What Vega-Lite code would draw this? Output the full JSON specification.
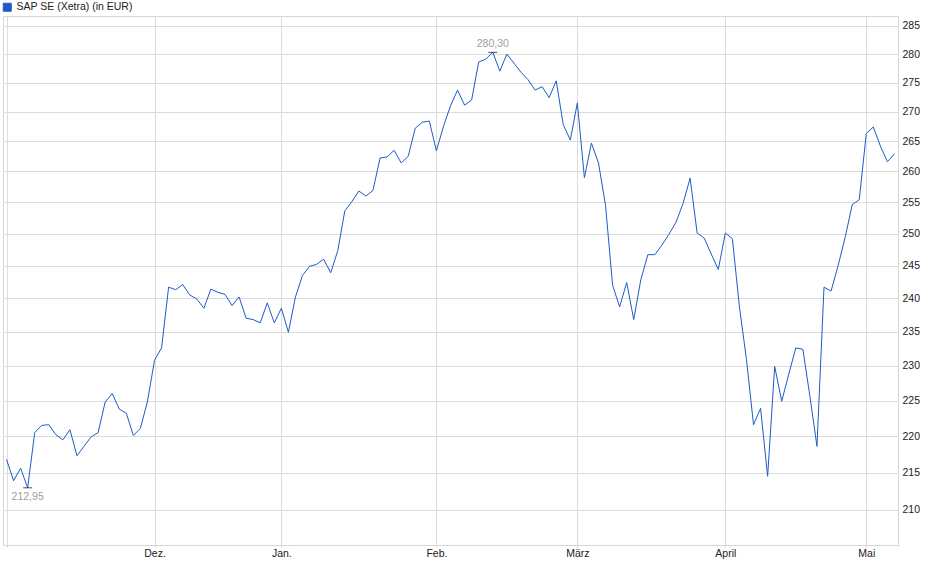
{
  "$schema": "https://vega.github.io/schema/vega-lite/v6.json",
  "width": 895,
  "height": 529,
  "autosize": {"type": "none"},
  "padding": {"left": 3, "top": 16, "right": 42, "bottom": 34},
  "background": "white",
  "config": {
    "font": "Liberation Sans",
    "view": {"stroke": "#d6d6d6", "strokeWidth": 1},
    "axis": {"labelFont": "Liberation Sans", "labelFontSize": 10.5, "labelColor": "#222222", "gridColor": "#dcdcdc", "gridWidth": 1}
  },
  "data": {
    "values": [
      {"d": "2024-11-01", "v": 216.8}, {"d": "2024-11-04", "v": 213.9}, {"d": "2024-11-05", "v": 215.6},
      {"d": "2024-11-06", "v": 212.95}, {"d": "2024-11-07", "v": 220.5}, {"d": "2024-11-08", "v": 221.5},
      {"d": "2024-11-11", "v": 221.6}, {"d": "2024-11-12", "v": 220.2}, {"d": "2024-11-13", "v": 219.5},
      {"d": "2024-11-14", "v": 220.9}, {"d": "2024-11-15", "v": 217.3}, {"d": "2024-11-18", "v": 218.6},
      {"d": "2024-11-19", "v": 219.9}, {"d": "2024-11-20", "v": 220.5}, {"d": "2024-11-21", "v": 224.8},
      {"d": "2024-11-22", "v": 226.0}, {"d": "2024-11-25", "v": 223.8}, {"d": "2024-11-26", "v": 223.2},
      {"d": "2024-11-27", "v": 220.1}, {"d": "2024-11-28", "v": 221.1}, {"d": "2024-11-29", "v": 224.9},
      {"d": "2024-12-02", "v": 230.8}, {"d": "2024-12-03", "v": 232.6}, {"d": "2024-12-04", "v": 241.7},
      {"d": "2024-12-05", "v": 241.3}, {"d": "2024-12-06", "v": 242.1}, {"d": "2024-12-09", "v": 240.5},
      {"d": "2024-12-10", "v": 239.9}, {"d": "2024-12-11", "v": 238.5}, {"d": "2024-12-12", "v": 241.4},
      {"d": "2024-12-13", "v": 240.9}, {"d": "2024-12-16", "v": 240.6}, {"d": "2024-12-17", "v": 238.9},
      {"d": "2024-12-18", "v": 240.2}, {"d": "2024-12-19", "v": 237.0}, {"d": "2024-12-20", "v": 236.8},
      {"d": "2024-12-23", "v": 236.3}, {"d": "2024-12-27", "v": 239.3}, {"d": "2024-12-30", "v": 236.3},
      {"d": "2025-01-02", "v": 238.5}, {"d": "2025-01-03", "v": 234.9}, {"d": "2025-01-06", "v": 240.2},
      {"d": "2025-01-07", "v": 243.5}, {"d": "2025-01-08", "v": 244.9}, {"d": "2025-01-09", "v": 245.2},
      {"d": "2025-01-10", "v": 246.0}, {"d": "2025-01-13", "v": 243.9}, {"d": "2025-01-14", "v": 247.3},
      {"d": "2025-01-15", "v": 253.6}, {"d": "2025-01-16", "v": 255.1}, {"d": "2025-01-17", "v": 256.8},
      {"d": "2025-01-20", "v": 256.0}, {"d": "2025-01-21", "v": 256.9}, {"d": "2025-01-22", "v": 262.2},
      {"d": "2025-01-23", "v": 262.4}, {"d": "2025-01-24", "v": 263.5}, {"d": "2025-01-27", "v": 261.4},
      {"d": "2025-01-28", "v": 262.5}, {"d": "2025-01-29", "v": 267.2}, {"d": "2025-01-30", "v": 268.2},
      {"d": "2025-01-31", "v": 268.4}, {"d": "2025-02-03", "v": 263.4}, {"d": "2025-02-04", "v": 267.5},
      {"d": "2025-02-05", "v": 271.0}, {"d": "2025-02-06", "v": 273.7}, {"d": "2025-02-07", "v": 271.1},
      {"d": "2025-02-10", "v": 272.0}, {"d": "2025-02-11", "v": 278.6}, {"d": "2025-02-12", "v": 279.1},
      {"d": "2025-02-13", "v": 280.3}, {"d": "2025-02-14", "v": 277.0}, {"d": "2025-02-17", "v": 280.0},
      {"d": "2025-02-18", "v": 278.4}, {"d": "2025-02-19", "v": 276.8}, {"d": "2025-02-20", "v": 275.5},
      {"d": "2025-02-21", "v": 273.7}, {"d": "2025-02-24", "v": 274.3}, {"d": "2025-02-25", "v": 272.4},
      {"d": "2025-02-26", "v": 275.3}, {"d": "2025-02-27", "v": 267.8}, {"d": "2025-02-28", "v": 265.2},
      {"d": "2025-03-03", "v": 271.5}, {"d": "2025-03-04", "v": 259.0}, {"d": "2025-03-05", "v": 264.7},
      {"d": "2025-03-06", "v": 261.4}, {"d": "2025-03-07", "v": 254.5}, {"d": "2025-03-10", "v": 242.0},
      {"d": "2025-03-11", "v": 238.7}, {"d": "2025-03-12", "v": 242.4}, {"d": "2025-03-13", "v": 236.8},
      {"d": "2025-03-14", "v": 242.8}, {"d": "2025-03-17", "v": 246.7}, {"d": "2025-03-18", "v": 246.7},
      {"d": "2025-03-19", "v": 248.2}, {"d": "2025-03-20", "v": 249.9}, {"d": "2025-03-21", "v": 251.8},
      {"d": "2025-03-24", "v": 254.8}, {"d": "2025-03-25", "v": 258.9}, {"d": "2025-03-26", "v": 250.1},
      {"d": "2025-03-27", "v": 249.3}, {"d": "2025-03-28", "v": 246.8}, {"d": "2025-03-31", "v": 244.4},
      {"d": "2025-04-01", "v": 250.1}, {"d": "2025-04-02", "v": 249.2}, {"d": "2025-04-03", "v": 238.7},
      {"d": "2025-04-04", "v": 230.9}, {"d": "2025-04-07", "v": 221.6}, {"d": "2025-04-08", "v": 223.9},
      {"d": "2025-04-09", "v": 214.5}, {"d": "2025-04-10", "v": 229.9}, {"d": "2025-04-11", "v": 224.9},
      {"d": "2025-04-14", "v": 228.8}, {"d": "2025-04-15", "v": 232.6}, {"d": "2025-04-16", "v": 232.4},
      {"d": "2025-04-17", "v": 225.6}, {"d": "2025-04-22", "v": 218.6}, {"d": "2025-04-23", "v": 241.7},
      {"d": "2025-04-24", "v": 241.1}, {"d": "2025-04-25", "v": 245.0}, {"d": "2025-04-28", "v": 249.4},
      {"d": "2025-04-29", "v": 254.6}, {"d": "2025-04-30", "v": 255.4}, {"d": "2025-05-02", "v": 266.3},
      {"d": "2025-05-05", "v": 267.4}, {"d": "2025-05-06", "v": 264.2}, {"d": "2025-05-07", "v": 261.6},
      {"d": "2025-05-08", "v": 262.9}
    ]
  },
  "encoding": {
    "x": {
      "field": "d",
      "type": "ordinal",
      "sort": "ascending",
      "scale": {"type": "point", "padding": 0.5},
      "axis": {
        "title": null,
        "values": ["2024-11-01", "2024-12-02", "2025-01-02", "2025-02-03", "2025-03-03", "2025-04-01", "2025-05-02"],
        "labelExpr": "slice(datum.value,0,7)=='2024-12' ? 'Dez.' : slice(datum.value,0,7)=='2025-01' ? 'Jan.' : slice(datum.value,0,7)=='2025-02' ? 'Feb.' : slice(datum.value,0,7)=='2025-03' ? 'März' : slice(datum.value,0,7)=='2025-04' ? 'April' : slice(datum.value,0,7)=='2025-05' ? 'Mai' : ''",
        "labelAngle": 0,
        "labelOverlap": false,
        "labelPadding": 1,
        "grid": true,
        "domain": false,
        "ticks": true,
        "tickSize": 2,
        "tickColor": "#d6d6d6"
      }
    },
    "y": {
      "field": "v",
      "type": "quantitative",
      "scale": {"type": "log", "domain": [205.4, 286.8], "nice": false, "zero": false},
      "axis": {
        "title": null,
        "orient": "right",
        "values": [210, 215, 220, 225, 230, 235, 240, 245, 250, 255, 260, 265, 270, 275, 280, 285],
        "format": "d",
        "grid": true,
        "domain": false,
        "ticks": false,
        "labelPadding": 4
      }
    }
  },
  "layer": [
    {
      "mark": {"type": "line", "strokeWidth": 1, "interpolate": "linear"},
      "encoding": {
        "color": {
          "datum": "SAP SE (Xetra) (in EUR)",
          "scale": {"range": ["#1d5cc8"]},
          "legend": {
            "title": null,
            "orient": "none",
            "legendX": -1,
            "legendY": -14,
            "padding": 0,
            "symbolType": "square",
            "symbolSize": 64,
            "labelFontSize": 10.5,
            "labelColor": "#222222",
            "labelOffset": 4,
            "encode": {"symbols": {"update": {"fill": {"value": "#2358c0"}, "stroke": {"value": "#1a2b5a"}, "strokeWidth": {"value": 1}}}}
          }
        }
      }
    },
    {
      "transform": [
        {"joinaggregate": [{"op": "max", "field": "v", "as": "vmax"}, {"op": "min", "field": "v", "as": "vmin"}]},
        {"filter": "datum.v == datum.vmax || datum.v == datum.vmin"}
      ],
      "mark": {"type": "tick", "color": "#000000", "size": 9, "thickness": 1}
    },
    {
      "transform": [
        {"joinaggregate": [{"op": "max", "field": "v", "as": "vmax"}]},
        {"filter": "datum.v == datum.vmax"},
        {"calculate": "replace(format(datum.v, '.2f'), '.', ',')", "as": "lbl"}
      ],
      "mark": {"type": "text", "baseline": "bottom", "dy": -3, "fontSize": 10.5, "color": "#a39e96"},
      "encoding": {"text": {"field": "lbl"}}
    },
    {
      "transform": [
        {"joinaggregate": [{"op": "min", "field": "v", "as": "vmin"}]},
        {"filter": "datum.v == datum.vmin"},
        {"calculate": "replace(format(datum.v, '.2f'), '.', ',')", "as": "lbl"}
      ],
      "mark": {"type": "text", "baseline": "top", "dy": 4, "fontSize": 10.5, "color": "#a39e96"},
      "encoding": {"text": {"field": "lbl"}}
    }
  ]
}
